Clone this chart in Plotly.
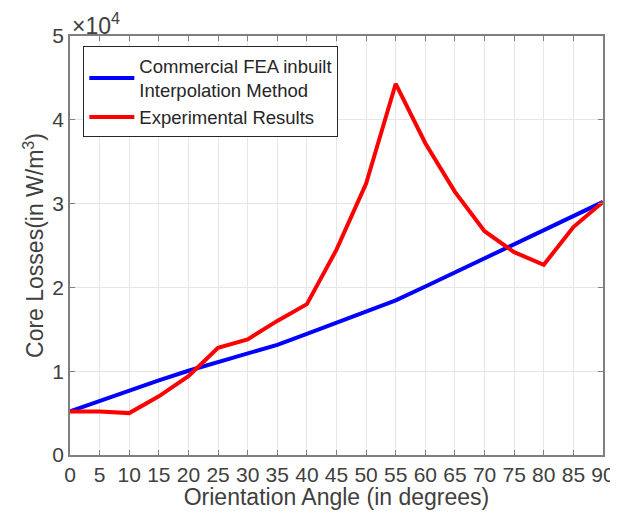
import plotly.graph_objects as go

angles = [0, 5, 10, 15, 20, 25, 30, 35, 40, 45, 50, 55, 60, 65, 70, 75, 80, 85, 90]
fea_losses = [5200, 6450, 7700, 8900, 10050, 11050, 12100, 13150, 14450, 15750, 17100, 18450,
              20100, 21800, 23500, 25200, 26850, 28500, 30200]
exp_losses = [5200, 5200, 5000, 7000, 9400, 12800, 13800, 16000, 18000, 24500, 32400, 44300,
              37200, 31400, 26700, 24200, 22700, 27200, 30200]
x_ticks = list(range(0, 91, 5))
y_ticks = [0, 10000, 20000, 30000, 40000, 50000]
y_tick_labels = ["0", "1", "2", "3", "4", "5"]

font_family = "Liberation Sans, Arial, sans-serif"

fig = go.Figure()
fig.add_trace(go.Scatter(x=angles, y=fea_losses, mode="lines",
                         name="Commercial FEA inbuilt<br>Interpolation Method",
                         line=dict(color="#0000ff", width=4)))
fig.add_trace(go.Scatter(x=angles, y=exp_losses, mode="lines",
                         name="Experimental Results",
                         line=dict(color="#ff0000", width=4)))

axis_common = dict(showline=True, mirror="allticks", linecolor="#7f7f7f", linewidth=1.5,
                   ticks="inside", ticklen=5, tickcolor="#7f7f7f", automargin=False,
                   showgrid=True, gridcolor="#e6e6e6", gridwidth=1, zeroline=False,
                   tickfont=dict(family=font_family, size=21, color="#404040"))

fig.update_layout(
    width=610, height=502,
    margin=dict(l=62, r=15, t=28, b=55),
    paper_bgcolor="white", plot_bgcolor="white",
    font=dict(family=font_family, color="#404040"),
    xaxis=dict(range=[0, 90], tickvals=x_ticks,
               title=dict(text="Orientation Angle (in degrees)", font=dict(size=23), standoff=2),
               **axis_common),
    yaxis=dict(range=[0, 50000], tickvals=y_ticks, ticktext=y_tick_labels,
               title=dict(text="Core Losses(in W/m<sup>3</sup>)", font=dict(size=23), standoff=2),
               **axis_common),
    legend=dict(x=0.025, y=0.975, xanchor="left", yanchor="top",
                bgcolor="white", bordercolor="#262626", borderwidth=1,
                font=dict(family=font_family, size=18.5, color="#262626"),
                valign="middle", tracegroupgap=0, itemwidth=45),
    showlegend=True,
)
fig.add_annotation(text="×10<sup>4</sup>", xref="paper", yref="paper", x=0.0, y=1.0,
                   xanchor="left", yanchor="bottom", yshift=-5, showarrow=False,
                   font=dict(family=font_family, size=23, color="#404040"))

fig.write_html("out.html")
